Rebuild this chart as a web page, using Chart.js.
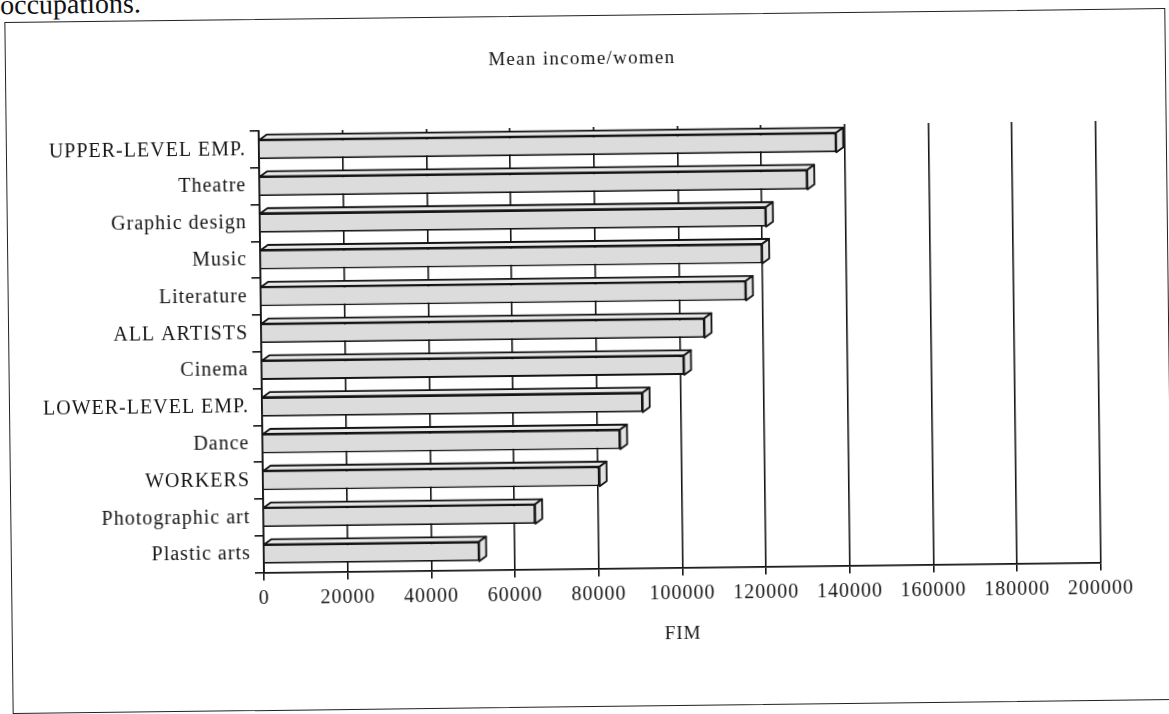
<!DOCTYPE html>
<html>
<head>
<meta charset="utf-8">
<script src="https://cdn.jsdelivr.net/npm/chart.js@4.4.1/dist/chart.umd.min.js"></script>
<style>
html, body { margin: 0; padding: 0; width: 1169px; height: 714px; overflow: hidden; background: #fff; }
/* the scanned page is slightly skewed, so the whole sheet is turned a little */
#page { position: absolute; left: 0; top: 0; width: 1169px; height: 714px;
        transform-origin: 264px 572.5px; transform: rotate(-0.69deg); }
#frame { position: absolute; left: 11px; top: 19px; width: 1161px; height: 692px;
         border: 1.6px solid #222; box-sizing: border-box; }
#caption { position: absolute; left: 7px; top: -12px; font-size: 28px; line-height: 28px;
           font-family: "Liberation Serif", "Times New Roman", serif; color: #111; white-space: nowrap; }
canvas { position: absolute; left: 0; top: 0; }
</style>
</head>
<body>
<div id="page">
  <div id="caption">occupations.</div>
  <div id="frame"></div>
  <canvas id="incomeChart" width="1169" height="714"></canvas>
</div>
<script>
const categories = [
    'UPPER-LEVEL EMP.', 'Theatre', 'Graphic design', 'Music', 'Literature', 'ALL ARTISTS',
    'Cinema', 'LOWER-LEVEL EMP.', 'Dance', 'WORKERS', 'Photographic art', 'Plastic arts'
];
const meanIncome = [138000, 131000, 121000, 120000, 116000, 106000, 101000, 91000, 85500, 80500, 65000, 51500];
const xTicks = [0, 20000, 40000, 60000, 80000, 100000, 120000, 140000, 160000, 180000, 200000];
const chartTitle = 'Mean income/women';
const xTitle = 'FIM';

const SERIF = '"Liberation Serif", "Times New Roman", serif';
const INK = '#151515';
const DEPTH_X = 7, DEPTH_Y = 5;

// draws the top and right faces so the bars look like the old 3-D bars
const bar3d = {
    id: 'bar3d',
    beforeDraw(chart) {
        chart.ctx.letterSpacing = '1px';
    },
    afterDatasetsDraw(chart) {
        const ctx = chart.ctx;
        const meta = chart.getDatasetMeta(0);
        ctx.save();
        ctx.lineWidth = 1.8;
        ctx.strokeStyle = INK;
        ctx.lineJoin = 'round';
        meta.data.forEach(bar => {
            const { x, y, base, height } = bar.getProps(['x', 'y', 'base', 'height'], true);
            const top = y - height / 2, bottom = y + height / 2;

            ctx.beginPath();
            ctx.moveTo(base, top);
            ctx.lineTo(base + DEPTH_X, top - DEPTH_Y);
            ctx.lineTo(x + DEPTH_X, top - DEPTH_Y);
            ctx.lineTo(x, top);
            ctx.closePath();
            ctx.fillStyle = '#e8e8e8';
            ctx.fill();
            ctx.stroke();

            ctx.beginPath();
            ctx.moveTo(x, top);
            ctx.lineTo(x + DEPTH_X, top - DEPTH_Y);
            ctx.lineTo(x + DEPTH_X, bottom - DEPTH_Y);
            ctx.lineTo(x, bottom);
            ctx.closePath();
            ctx.fillStyle = '#e2e2e2';
            ctx.fill();
            ctx.stroke();
        });
        ctx.restore();
    },
    afterDraw(chart) {
        const ctx = chart.ctx;
        ctx.save();
        ctx.fillStyle = INK;
        ctx.textAlign = 'center';
        ctx.textBaseline = 'middle';

        ctx.font = '19px ' + SERIF;
        ctx.letterSpacing = '1.3px';
        ctx.fillText(chartTitle, 588, 63);

        ctx.letterSpacing = '1px';
        const area = chart.chartArea;
        ctx.fillText(xTitle, (area.left + area.right) / 2, 639);
        ctx.restore();
    }
};

new Chart(document.getElementById('incomeChart'), {
    type: 'bar',
    data: {
        labels: categories,
        datasets: [{
            data: meanIncome,
            backgroundColor: '#dcdcdc',
            borderColor: INK,
            borderWidth: 1.8,
            categoryPercentage: 1,
            barPercentage: 0.53
        }]
    },
    options: {
        indexAxis: 'y',
        responsive: false,
        animation: false,
        layout: { padding: { top: 131, right: 68.3, left: 0, bottom: 0 } },
        plugins: {
            legend: { display: false },
            title: { display: false },
            tooltip: { enabled: false }
        },
        scales: {
            x: {
                min: 0,
                max: 200000,
                afterBuildTicks: scale => { scale.ticks = xTicks.map(v => ({ value: v })); },
                afterFit: scale => { scale.height = 141.5; },
                grid: { color: INK, lineWidth: 1.6, tickLength: 8, drawTicks: true },
                border: { display: true, color: INK, width: 1.8 },
                ticks: {
                    autoSkip: false,
                    maxRotation: 0,
                    padding: 6,
                    color: INK,
                    font: { family: SERIF, size: 20 },
                    callback: v => String(v)
                }
            },
            y: {
                afterFit: scale => { scale.width = 264; },
                grid: { offset: true, drawOnChartArea: false, drawTicks: true, tickLength: 9, color: INK, lineWidth: 1.6 },
                border: { display: true, color: INK, width: 1.8 },
                ticks: {
                    padding: 4,
                    color: INK,
                    font: { family: SERIF, size: 20 }
                }
            }
        }
    },
    plugins: [bar3d]
});
</script>
</body>
</html>
